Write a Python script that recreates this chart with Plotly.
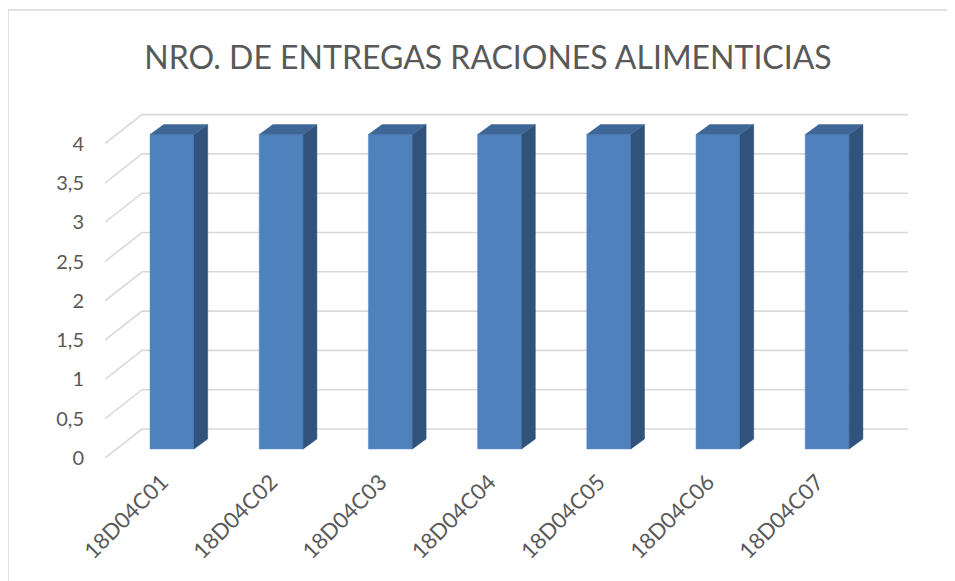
import plotly.graph_objects as go

# ---------------- data ----------------
categories = ["18D04C01", "18D04C02", "18D04C03", "18D04C04", "18D04C05", "18D04C06", "18D04C07"]
values = [4, 4, 4, 4, 4, 4, 4]
y_tick_values = [0, 0.5, 1, 1.5, 2, 2.5, 3, 3.5, 4]
y_tick_labels = ["0", "0,5", "1", "1,5", "2", "2,5", "3", "3,5", "4"]
chart_title = "NRO. DE ENTREGAS RACIONES ALIMENTICIAS"

# ---------------- style / geometry ----------------
OFF = 8  # page body margin offset
W, H = 955, 581
ML, MT = 105 - OFF, 100 - OFF
PW, PH = 803, 358
MR, MB = W - ML - PW, H - MT - PH
PX_PER_CAT = 109.2
PX_PER_UNIT = 78.6
x_lo = -67 / PX_PER_CAT
x_hi = x_lo + PW / PX_PER_CAT
y_hi = PH / PX_PER_UNIT

def ux(px):
    return px / PX_PER_CAT

def uy(px):
    return px / PX_PER_UNIT

wall_dx, wall_dy = ux(37), uy(29)       # depth of the back wall
bar_dx, bar_dy = ux(13.7), uy(10)       # depth of each bar
bar_w = ux(44)
bar_base = uy(9)

FRONT = "#4F81BD"
SIDE = "#31527B"
TOP = "#3E6797"
GRID = "#D9D9D9"
TEXT = "#595959"
FONT = "Lato"

idx = list(range(len(categories)))

fig = go.Figure()

# side faces
sx, sy = [], []
for i, v in zip(idx, values):
    xr = i + bar_w / 2
    sx += [xr, xr + bar_dx, xr + bar_dx, xr, xr, None]
    sy += [bar_base, bar_base + bar_dy, bar_base + v + bar_dy, bar_base + v, bar_base, None]

# top faces
tx, ty = [], []
for i, v in zip(idx, values):
    xl, xr = i - bar_w / 2, i + bar_w / 2
    top = bar_base + v
    tx += [xl, xr, xr + bar_dx, xl + bar_dx, xl, None]
    ty += [top, top, top + bar_dy, top + bar_dy, top, None]

# front faces
fig.add_trace(go.Bar(x=idx, y=values, base=[bar_base] * len(values), width=bar_w,
                     marker=dict(color=FRONT, line=dict(color="#5B8CC8", width=0.5)),
                     showlegend=False))
fig.add_trace(go.Scatter(x=sx, y=sy, mode="lines", fill="toself", fillcolor=SIDE,
                         line=dict(color=SIDE, width=0.5), hoverinfo="skip", showlegend=False))
fig.add_trace(go.Scatter(x=tx, y=ty, mode="lines", fill="toself", fillcolor=TOP,
                         line=dict(color=TOP, width=0.5), hoverinfo="skip", showlegend=False))

# gridlines (side wall diagonal + back wall horizontal), drawn below the bars
shapes = []
for t in y_tick_values:
    shapes.append(dict(type="path", xref="x", yref="y", layer="below",
                       path=f"M {x_lo},{t} L {x_lo + wall_dx},{t + wall_dy} L {x_hi},{t + wall_dy}",
                       line=dict(color=GRID, width=1.6)))

# chart border
shapes.append(dict(type="rect", xref="paper", yref="paper",
                   x0=(8 - OFF - ML) / PW, x1=(W + 20 - ML) / PW,
                   y0=-(H + 20 - (MT + PH)) / PH, y1=(MT + PH - (10 - OFF)) / PH,
                   line=dict(color=GRID, width=1.5), fillcolor="rgba(0,0,0,0)", layer="below"))

fig.update_layout(
    width=W, height=H,
    margin=dict(l=ML, r=MR, t=MT, b=MB, autoexpand=False),
    paper_bgcolor="white", plot_bgcolor="white",
    separators=",.",
    font=dict(family=FONT, color=TEXT),
    title=dict(text=chart_title, x=(488 - OFF) / W, xanchor="center", y=1 - (58 - OFF) / H,
               yanchor="middle", yref="container",
               font=dict(size=32, color=TEXT, family=FONT)),
    xaxis=dict(range=[x_lo, x_hi], tickvals=idx, ticktext=categories, tickangle=-45,
               showgrid=False, zeroline=False, showline=False, ticks="",
               ticklabelshift=-10, ticklabelstandoff=6,
               tickfont=dict(size=22, color=TEXT, family=FONT), fixedrange=True),
    yaxis=dict(range=[0, y_hi], tickvals=y_tick_values, ticktext=y_tick_labels,
               showgrid=False, zeroline=False, showline=False, ticks="",
               ticklabelstandoff=20,
               tickfont=dict(size=20, color=TEXT, family=FONT), fixedrange=True),
    shapes=shapes,
)

fig.write_html("out.html")
